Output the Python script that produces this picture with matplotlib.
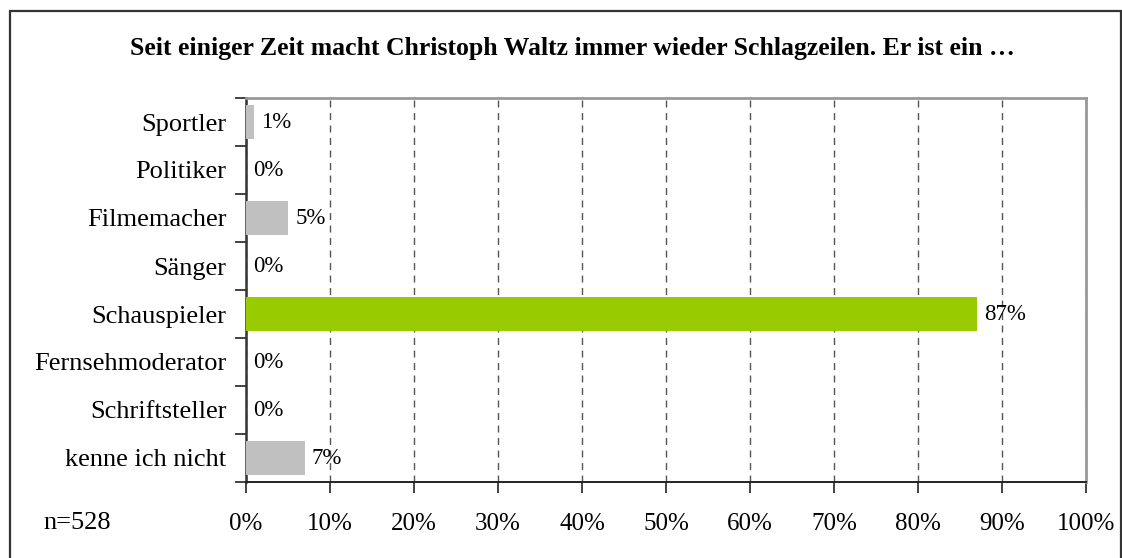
import matplotlib
matplotlib.use("Agg")
import matplotlib.pyplot as plt
from matplotlib.patches import Rectangle
import numpy as np

title = "Seit einiger Zeit macht Christoph Waltz immer wieder Schlagzeilen. Er ist ein …"
categories = ["Sportler", "Politiker", "Filmemacher", "Sänger", "Schauspieler",
              "Fernsehmoderator", "Schriftsteller", "kenne ich nicht"]
values = [1, 0, 5, 0, 87, 0, 0, 7]
highlight = "Schauspieler"
x_ticks = [0, 10, 20, 30, 40, 50, 60, 70, 80, 90, 100]
sample_note = "n=528"

plt.rcParams["font.family"] = ["Liberation Serif", "DejaVu Serif"]

W, H = 1122, 558
fig = plt.figure(figsize=(W / 100, H / 100), dpi=100)

# outer frame around the whole chart
fig.patches.append(Rectangle((10 / W, -0.05), (1120.5 - 10) / W, (H - 11) / H + 0.05,
                             transform=fig.transFigure, fill=False,
                             edgecolor="#333333", linewidth=1.6))

left, right, top, bottom = 246, 1086, 98, 482
ax = fig.add_axes([left / W, 1 - bottom / H, (right - left) / W, (bottom - top) / H])

y = np.arange(len(categories))
colors = ["#99CC00" if c == highlight else "#C0C0C0" for c in categories]
ax.barh(y, values, height=0.69, color=colors, zorder=3)

for yi, v in zip(y, values):
    ax.text(v + 0.85, yi, f"{v}%", va="center", ha="left", fontsize=16.5, zorder=4)

ax.set_xlim(0, 100)
ax.set_ylim(len(categories) - 0.5, -0.5)

ax.set_xticks(x_ticks)
ax.set_xticklabels([f"{t}%" for t in x_ticks], fontsize=18)
ax.tick_params(axis="x", direction="out", length=8, width=1.2, color="#222222", pad=14.5)

# category labels as minor ticks, boundary marks as major ticks
ax.set_yticks(np.arange(-0.5, len(categories), 1.0))
ax.set_yticklabels([])
ax.set_yticks(y, minor=True)
ax.set_yticklabels(categories, minor=True, fontsize=19)
ax.tick_params(axis="y", which="major", direction="out", length=8, width=1.2, color="#222222")
ax.tick_params(axis="y", which="minor", length=0, pad=14)

ax.grid(axis="x", which="major", linestyle=(0, (5, 4)), color="#555555", linewidth=1.0, zorder=1)
ax.grid(axis="y", which="both", visible=False)

for side in ["top", "right"]:
    ax.spines[side].set_color("#999999")
    ax.spines[side].set_linewidth(2)
ax.spines["left"].set_color("#333333")
ax.spines["left"].set_linewidth(1.8)
ax.spines["bottom"].set_color("#222222")
ax.spines["bottom"].set_linewidth(1.4)

fig.text(572 / W, 1 - 48 / H, title, ha="center", va="center",
         fontsize=18.5, fontweight="bold")
fig.text(43 / W, 1 - 523 / H, sample_note, ha="left", va="center", fontsize=19)

fig.savefig("out.png", dpi=100)
